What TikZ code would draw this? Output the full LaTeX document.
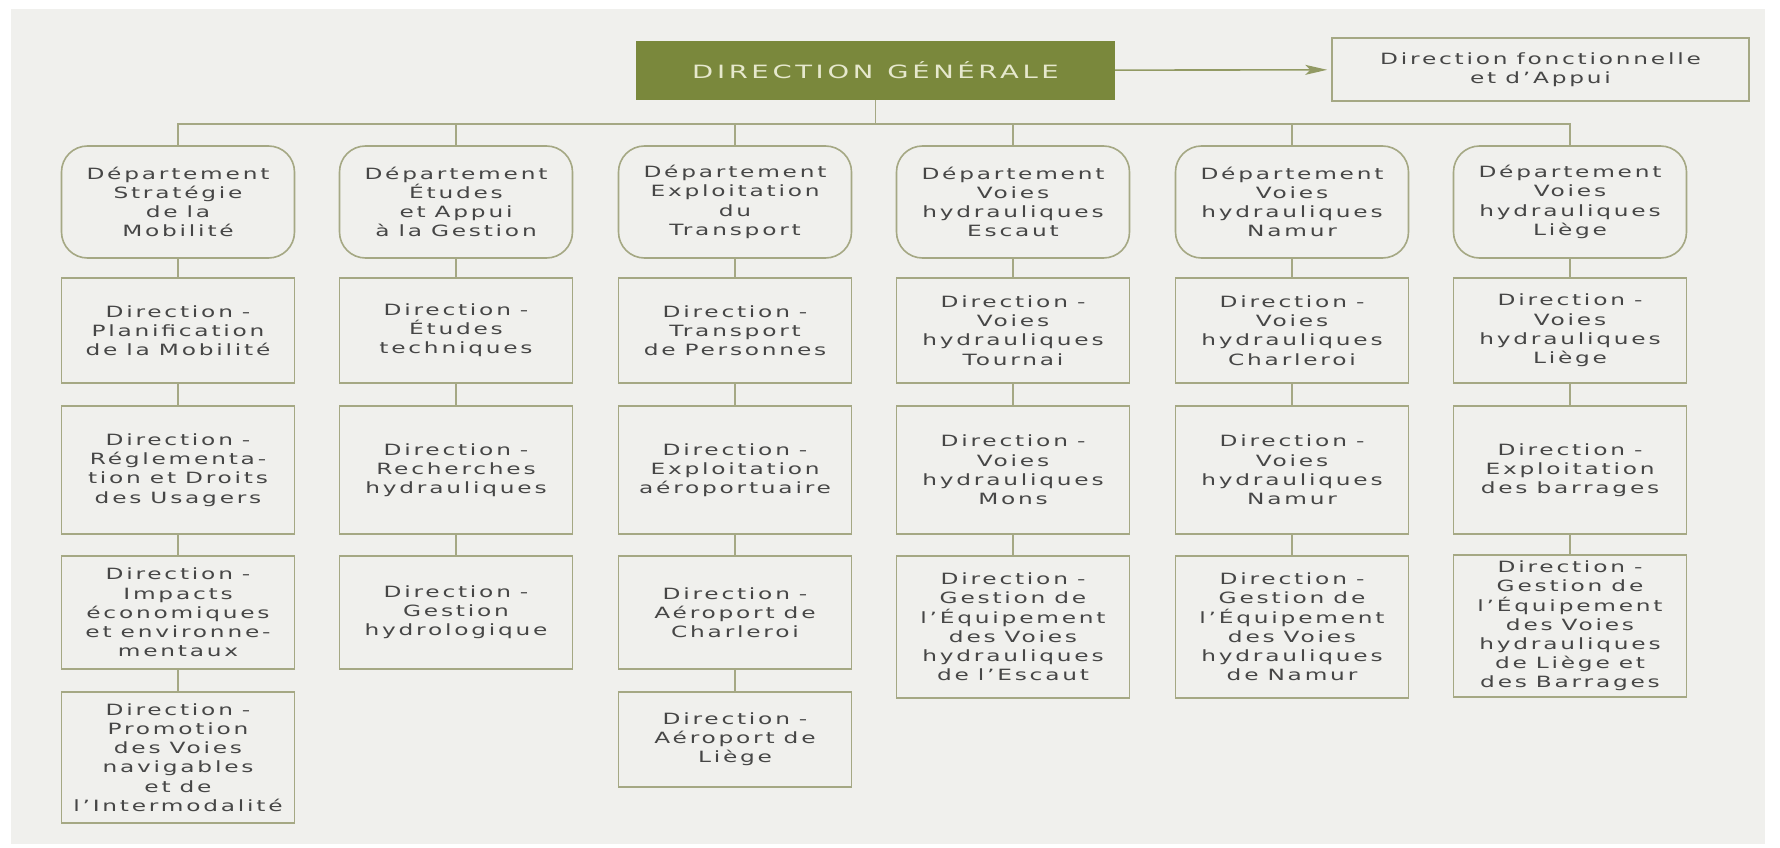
\documentclass[tikz,border=0pt]{standalone}
\usepackage{fontspec}
\usepackage{xcolor}
\usepackage{tikz}
\usetikzlibrary{arrows.meta}
\newfontfamily\orgfont[LetterSpace=18, FakeStretch=1.5]{DejaVu Sans}
\newfontfamily\dgfont[LetterSpace=20, FakeStretch=1.5]{DejaVu Sans}
\newcommand\orgtext{\orgfont\fontsize{15.5}{19.2}\selectfont}
\newcommand\dgtext{\dgfont\fontsize{18.3}{20}\selectfont}
\definecolor{olivedg}{RGB}{122,136,60}
\definecolor{olivecream}{RGB}{230,232,205}
\definecolor{boxline}{RGB}{165,168,132}
\definecolor{paper}{RGB}{240,240,237}
\definecolor{graytext}{RGB}{70,70,70}

\begin{document}
\begin{tikzpicture}[x=1pt, y=-1pt,
    dgbox/.style={fill=olivedg, minimum width=479pt, minimum height=59pt, text=olivecream, font=\dgtext, execute at begin node=\spaceskip 14pt\relax},
    dirbox/.style={draw=boxline, line width=1.6pt, text width=225pt, align=center, inner xsep=4pt, text=graytext, font=\orgtext, execute at begin node=\spaceskip 9pt\relax},
    dept/.style={dirbox, rounded corners=26pt, minimum height=112pt},
    link/.style={draw=boxline, line width=1.6pt},
    arrowline/.style={draw=boxline!55!olivedg, line width=1.6pt, -{Stealth[length=22pt,width=10pt,inset=5pt]}, shorten >=4pt}]
    \useasboundingbox (0,0) rectangle (1780,848);
    % Paper
    \fill[white] (0,0) rectangle (1780,848);
    \fill[paper] (11,9) rectangle (1765,844);
    % Direction generale
    \node[dgbox] (dg) at (875.5,70.5) {DIRECTION GÉNÉRALE};
    \node[dirbox, text width=409pt, minimum height=63pt] (fonct) at (1540.5,69.5) {Direction fonctionnelle\\et d’Appui};
    \draw[arrowline] (dg) -- (fonct);
    % Departments
    \node[dept] (mob) at (178,202) {Département\\Stratégie\\de la\\Mobilité};
    \node[dept] (etu) at (456,202) {Département\\Études\\et Appui\\à la Gestion};
    \node[dept] (exp) at (735,202) {Département\\Exploitation\\du\\Transport};
    \node[dept] (esc) at (1013,202) {Département\\Voies\\hydrauliques\\Escaut};
    \node[dept] (nam) at (1292,202) {Département\\Voies\\hydrauliques\\Namur};
    \node[dept] (lie) at (1570,202) {Département\\Voies\\hydrauliques\\Liège};
    % Bus
    \coordinate (bus) at (0,124);
    \draw[link] (dg) -- (dg |- bus);
    \draw[link] (mob.north) -- (mob.north |- bus) -- (lie.north |- bus) -- (lie.north);
    \draw[link] (etu.north) -- (etu.north |- bus);
    \draw[link] (exp.north) -- (exp.north |- bus);
    \draw[link] (esc.north) -- (esc.north |- bus);
    \draw[link] (nam.north) -- (nam.north |- bus);
    % Strategie de la Mobilite
    \node[dirbox, minimum height=105pt] (mob1) at (178,330.5) {Direction -\\Planification\\de la Mobilité};
    \node[dirbox, minimum height=128pt] (mob2) at (178,470) {Direction -\\Réglementa-\\tion et Droits\\des Usagers};
    \node[dirbox, minimum height=113pt] (mob3) at (178,612.5) {Direction -\\Impacts\\économiques\\et environne-\\mentaux};
    \node[dirbox, minimum height=131pt] (mob4) at (178,757.5) {Direction -\\Promotion\\des Voies\\navigables\\et de\\l’Intermodalité};
    \draw[link] (mob) -- (mob1) -- (mob2) -- (mob3) -- (mob4);
    % Etudes et Appui
    \node[dirbox, minimum height=105pt] (etu1) at (456,330.5) {Direction -\\Études\\techniques};
    \node[dirbox, minimum height=128pt] (etu2) at (456,470) {Direction -\\Recherches\\hydrauliques};
    \node[dirbox, minimum height=113pt] (etu3) at (456,612.5) {Direction -\\Gestion\\hydrologique};
    \draw[link] (etu) -- (etu1) -- (etu2) -- (etu3);
    % Exploitation du Transport
    \node[dirbox, minimum height=105pt] (exp1) at (735,330.5) {Direction -\\Transport\\de Personnes};
    \node[dirbox, minimum height=128pt] (exp2) at (735,470) {Direction -\\Exploitation\\aéroportuaire};
    \node[dirbox, minimum height=113pt] (exp3) at (735,612.5) {Direction -\\Aéroport de\\Charleroi};
    \node[dirbox, minimum height=95pt] (exp4) at (735,739.5) {Direction -\\Aéroport de\\Liège};
    \draw[link] (exp) -- (exp1) -- (exp2) -- (exp3) -- (exp4);
    % Voies hydrauliques Escaut
    \node[dirbox, minimum height=105pt] (esc1) at (1013,330.5) {Direction -\\Voies\\hydrauliques\\Tournai};
    \node[dirbox, minimum height=128pt] (esc2) at (1013,470) {Direction -\\Voies\\hydrauliques\\Mons};
    \node[dirbox, minimum height=142pt] (esc3) at (1013,627) {Direction -\\Gestion de\\l’Équipement\\des Voies\\hydrauliques\\de l’Escaut};
    \draw[link] (esc) -- (esc1) -- (esc2) -- (esc3);
    % Voies hydrauliques Namur
    \node[dirbox, minimum height=105pt] (nam1) at (1292,330.5) {Direction -\\Voies\\hydrauliques\\Charleroi};
    \node[dirbox, minimum height=128pt] (nam2) at (1292,470) {Direction -\\Voies\\hydrauliques\\Namur};
    \node[dirbox, minimum height=142pt] (nam3) at (1292,627) {Direction -\\Gestion de\\l’Équipement\\des Voies\\hydrauliques\\de Namur};
    \draw[link] (nam) -- (nam1) -- (nam2) -- (nam3);
    % Voies hydrauliques Liege
    \node[dirbox, minimum height=105pt] (lie1) at (1570,330.5) {Direction -\\Voies\\hydrauliques\\Liège};
    \node[dirbox, minimum height=128pt] (lie2) at (1570,470) {Direction -\\Exploitation\\des barrages};
    \node[dirbox, minimum height=142pt] (lie3) at (1570,626) {Direction -\\Gestion de\\l’Équipement\\des Voies\\hydrauliques\\de Liège et\\des Barrages};
    \draw[link] (lie) -- (lie1) -- (lie2) -- (lie3);
\end{tikzpicture}
\end{document}
